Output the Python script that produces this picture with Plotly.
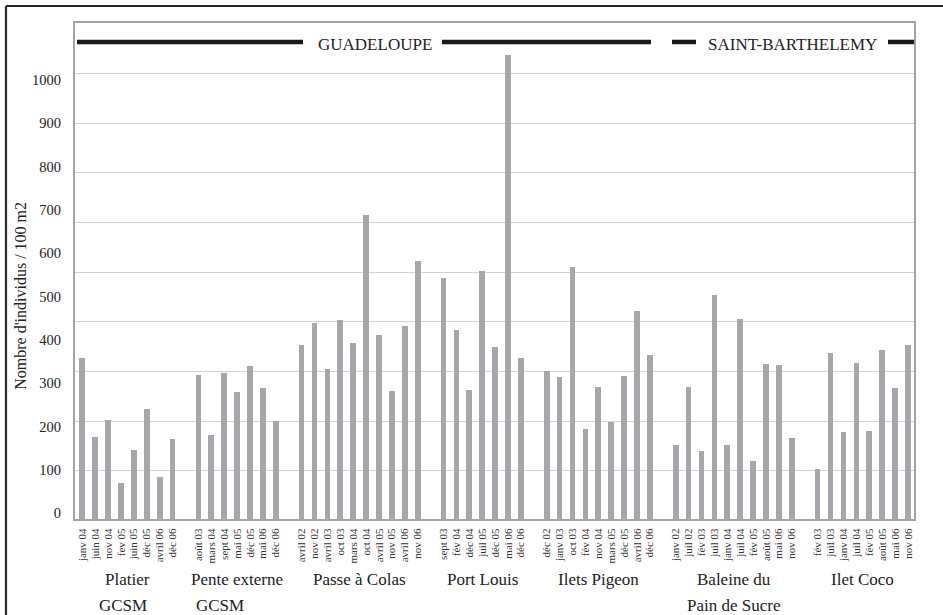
import plotly.graph_objects as go

# Sites (one group of bars each) and their survey dates / densities
site_lines = [
    ["Platier", "GCSM"],
    ["Pente externe", "GCSM"],
    ["Passe à Colas"],
    ["Port Louis"],
    ["Ilets Pigeon"],
    ["Baleine du", "Pain de Sucre"],
    ["Ilet Coco"],
]

platier_dates = ["janv 04", "juin 04", "nov 04", "fev 05", "juin 05", "déc 05", "avril 06", "déc 06"]
platier_vals = [371, 190, 229, 84, 160, 254, 98, 184]

pente_dates = ["août 03", "mars 04", "sept 04", "mai 05", "déc 05", "mai 06", "déc 06"]
pente_vals = [333, 194, 338, 294, 354, 302, 227]

colas_dates = ["avril 02", "nov 02", "avril 03", "oct 03", "mars 04", "oct 04", "avril 05", "nov 05", "avril 06", "nov 06"]
colas_vals = [401, 453, 347, 460, 407, 703, 426, 295, 447, 597]

louis_dates = ["sept 03", "fév 04", "déc 04", "juil 05", "déc 05", "mai 06", "déc 06"]
louis_vals = [557, 436, 298, 573, 397, 1071, 372]

pigeon_dates = ["déc 02", "janv 03", "oct 03", "fév 04", "nov 04", "mars 05", "déc 05", "avril 06", "déc 06"]
pigeon_vals = [341, 329, 582, 207, 305, 223, 331, 480, 379]

baleine_dates = ["janv 02", "juil 02", "fév 03", "juil 03", "janv 04", "juil 04", "fév 05", "août 05", "mai 06", "nov 06"]
baleine_vals = [172, 305, 157, 517, 172, 461, 135, 357, 356, 187]

coco_dates = ["fév 03", "juil 03", "janv 04", "juil 04", "fév 05", "août 05", "mai 06", "nov 06"]
coco_vals = [116, 383, 200, 360, 203, 390, 303, 403]

y_ticks = [0, 100, 200, 300, 400, 500, 600, 700, 800, 900, 1000]

all_dates = [platier_dates, pente_dates, colas_dates, louis_dates, pigeon_dates, baleine_dates, coco_dates]
all_vals = [platier_vals, pente_vals, colas_vals, louis_vals, pigeon_vals, baleine_vals, coco_vals]

# Lay the groups out on a numeric axis with one empty slot between sites
xs, labels, heights, centers = [], [], [], []
pos = 0
for dates, vals in zip(all_dates, all_vals):
    idx = list(range(pos, pos + len(dates)))
    xs += idx
    labels += dates
    heights += vals
    centers.append((idx[0] + idx[-1]) / 2)
    pos += len(dates) + 1

W, H = 943, 615
L, R, T, B = 75, 29, 23, 95.5
PW, PH = W - L - R, H - T - B


def px(x):
    return (x - L) / PW


def py(y):
    return (H - B - y) / PH


SERIF = "Liberation Serif"
INK = "#222222"

fig = go.Figure(
    go.Bar(
        x=xs,
        y=heights,
        width=0.44,
        marker=dict(color="#a6a6ab", line=dict(width=0)),
        hovertext=labels,
    )
)

shapes = []
# outer frame (top and left edges)
frame = dict(type="line", xref="paper", yref="paper", line=dict(color="#2a2a2a", width=2.2))
shapes.append(dict(frame, x0=px(6), x1=px(W + 5), y0=py(6), y1=py(6)))
shapes.append(dict(frame, x0=px(6), x1=px(6), y0=py(6), y1=py(H + 5)))
# heavy banner rules on either side of the island names
for a, b in [(77, 303), (442, 651), (672, 696), (888, 914)]:
    shapes.append(dict(type="line", xref="paper", yref="paper",
                       x0=px(a), x1=px(b), y0=py(42), y1=py(42),
                       line=dict(color="#1a1a1a", width=4.5)))

annotations = [
    dict(text="GUADELOUPE", x=px(375), y=py(45), xref="paper", yref="paper",
         showarrow=False, xanchor="center", yanchor="middle",
         font=dict(family=SERIF, size=17, color=INK)),
    dict(text="SAINT-BARTHELEMY", x=px(792), y=py(45), xref="paper", yref="paper",
         showarrow=False, xanchor="center", yanchor="middle",
         font=dict(family=SERIF, size=17, color=INK)),
    dict(text="Nombre d'individus / 100 m2", x=px(21), y=py(296), xref="paper", yref="paper",
         showarrow=False, textangle=-90, xanchor="center", yanchor="middle",
         font=dict(family=SERIF, size=16, color=INK)),
]

second_line_shift = {0: -4, 1: -17}
for i, (lines, cx) in enumerate(zip(site_lines, centers)):
    for j, line in enumerate(lines):
        annotations.append(dict(
            text=line, x=cx, xref="x", y=py(580 + 26 * j), yref="paper",
            showarrow=False, xanchor="center", yanchor="middle",
            xshift=second_line_shift.get(i, 0) if j == 1 else 0,
            font=dict(family=SERIF, size=17, color=INK),
        ))

fig.update_layout(
    width=W, height=H,
    margin=dict(l=L, r=R, t=T, b=B, pad=0),
    paper_bgcolor="white", plot_bgcolor="white",
    font=dict(family=SERIF),
    showlegend=False, bargap=0,
    shapes=shapes, annotations=annotations,
    xaxis=dict(
        range=[-0.566, pos - 1 - 0.53],
        tickmode="array", tickvals=xs, ticktext=labels, tickangle=-90,
        tickfont=dict(family=SERIF, size=11, color="#333333"),
        ticks="", ticklabelstandoff=3,
        showgrid=False, zeroline=False,
        showline=True, linecolor="#a3a3a3", linewidth=2, mirror=True,
    ),
    yaxis=dict(
        range=[0, PH / 0.4333],
        tickmode="array", tickvals=y_ticks, ticktext=[str(v) for v in y_ticks],
        tickfont=dict(family=SERIF, size=14.5, color=INK),
        ticks="", ticklabelstandoff=9, ticklabelshift=-6,
        showgrid=False, zeroline=False,
        minor=dict(tick0=-3, dtick=114.7, showgrid=True, gridcolor="#d2d2d2", gridwidth=1, ticks=""),
        showline=True, linecolor="#a3a3a3", linewidth=2, mirror=True,
    ),
)

fig.write_html("out.html")
